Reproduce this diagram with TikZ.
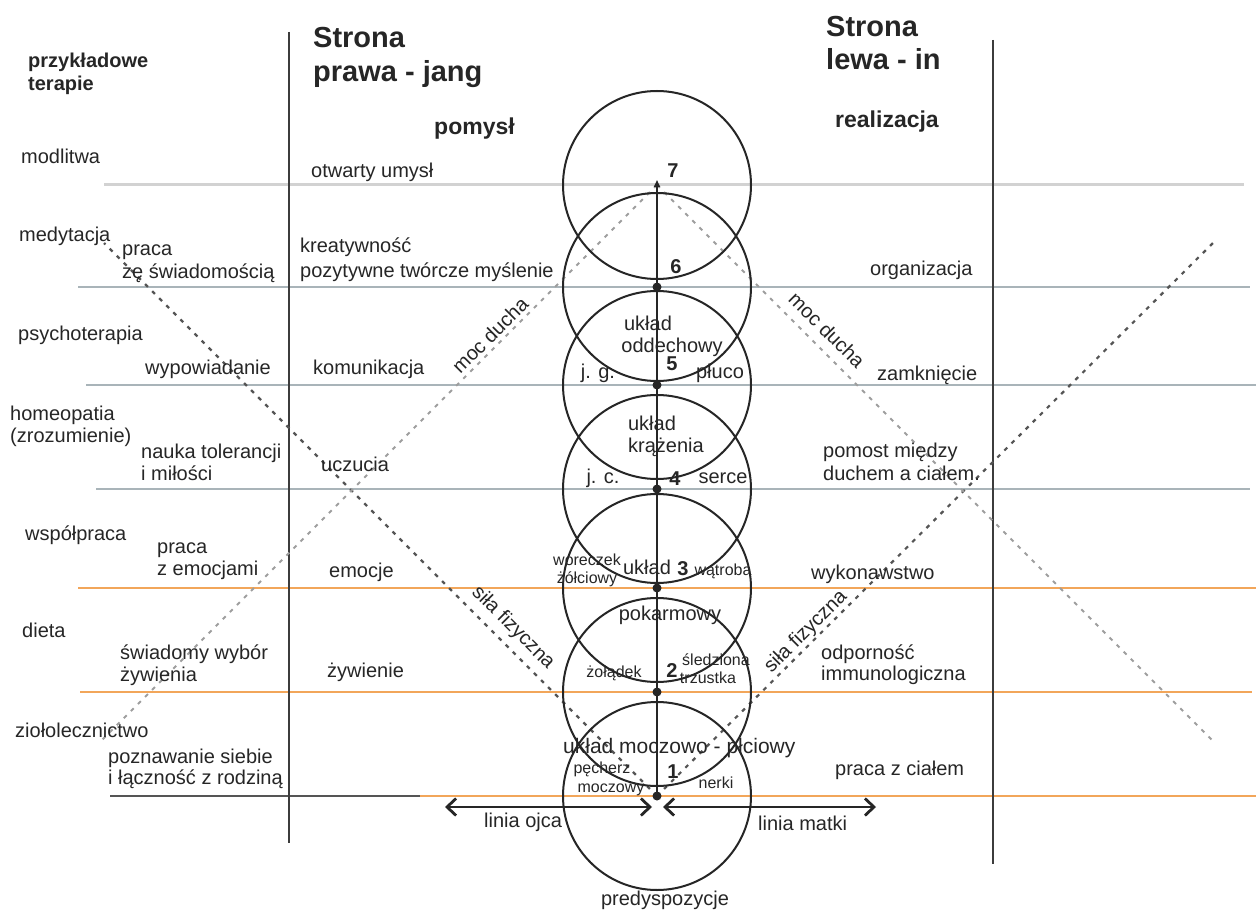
\documentclass[tikz,border=0pt]{standalone}
\usepackage{fontspec}
\setmainfont{Liberation Sans}
\usetikzlibrary{arrows.meta}
\definecolor{ink}{HTML}{262626}
\definecolor{lgray}{HTML}{D2D2D2}
\definecolor{bgray}{HTML}{A9B4B9}
\definecolor{orng}{HTML}{F2A65A}
\definecolor{dgray}{HTML}{555555}
\definecolor{mgray}{HTML}{9E9E9E}
\begin{document}
\begin{tikzpicture}[x=1pt,y=-1pt,
  txt/.style={font=\fontsize{20}{23}\selectfont, inner sep=0pt, anchor=base west, text=ink},
  txtc/.style={txt, anchor=base},
  sml/.style={font=\fontsize{16}{18}\selectfont, inner sep=0pt, anchor=base, text=ink},
  bld/.style={font=\fontsize{20}{23}\selectfont\bfseries, inner sep=0pt, anchor=base west, text=ink},
  numb/.style={font=\fontsize{20}{23}\selectfont\bfseries, inner sep=0pt, anchor=base, text=ink},
  head/.style={font=\fontsize{29}{34}\selectfont\bfseries, inner sep=0pt, anchor=base west, text=ink},
  subhead/.style={font=\fontsize{23}{26}\selectfont\bfseries, inner sep=0pt, anchor=base west, text=ink},
  rotlab/.style={font=\fontsize{20}{23}\selectfont, inner sep=0pt, anchor=center, text=ink},
  hlgray/.style={draw=lgray, line width=3pt},
  hlblue/.style={draw=bgray, line width=2pt},
  hlorange/.style={draw=orng, line width=2.4pt},
  hldark/.style={draw=dgray, line width=2pt},
  vline/.style={draw=ink!90, line width=2pt},
  dotdark/.style={draw=dgray, line width=2.2pt, dash pattern=on 4pt off 6pt},
  dotlight/.style={draw=mgray, line width=2pt, dash pattern=on 4pt off 6pt},
  ring/.style={circle, draw=ink, line width=2pt, minimum size=188pt, inner sep=0pt},
  blob/.style={circle, fill=ink, minimum size=9pt, inner sep=0pt},
  dblarrow/.style={draw=ink, line width=2.8pt, {Straight Barb[length=9pt,width=17pt]}-{Straight Barb[length=9pt,width=17pt]}},
]
\useasboundingbox (0,0) rectangle (1256,912);
\fill[white] (0,0) rectangle (1256,912);

% horizontal band lines
\draw[hlgray] (104,185) -- (1244,185);
\draw[hlblue] (78,287) -- (1250,287);
\draw[hlblue] (86,385) -- (1256,385);
\draw[hlblue] (96,489) -- (1250,489);
\draw[hlorange] (78,588) -- (1256,588);
\draw[hlorange] (80,692) -- (1252,692);
\draw[hlorange] (405,796) -- (1256,796);
\draw[hldark] (110,796) -- (420,796);

% vertical dividers
\draw[vline] (289,32) -- (289,843);
\draw[vline] (993,40) -- (993,864);

% diagonal dotted lines
\coordinate (top) at (657,185);
\coordinate (bot) at (657,796);
\coordinate (sl) at (104,243);
\coordinate (sr) at (1213,243);
\coordinate (ml) at (100,742);
\coordinate (mr) at (1215,743);
\draw[dotdark] (bot) -- (sl);
\draw[dotdark] (bot) -- (sr);
\draw[dotlight] (top) -- (ml);
\draw[dotlight] (top) -- (mr);

% circles
\node[ring] (c7) at (657,185) {};
\node[ring] (c6) at (657,287) {};
\node[ring] (c5) at (657,385) {};
\node[ring] (c4) at (657,489) {};
\node[ring] (c3) at (657,588) {};
\node[ring] (c2) at (657,692) {};
\node[ring] (c1) at (657,796) {};

% axis
\node[blob] (d6) at (657,287) {};
\node[blob] (d5) at (657,385) {};
\node[blob] (d4) at (657,489) {};
\node[blob] (d3) at (657,588) {};
\node[blob] (d2) at (657,692) {};
\node[blob] (d1) at (657,796) {};
\coordinate (tip) at (657,180);
\draw[ink, line width=1.6pt, -{Triangle[length=7pt,width=6pt]}] (d1.center) -- (tip);

% lineage arrows
\coordinate (ojL) at (445,807);
\coordinate (ojR) at (652,807);
\coordinate (maL) at (663,807);
\coordinate (maR) at (876,807);
\draw[dblarrow] (ojL) -- (ojR);
\draw[dblarrow] (maL) -- (maR);
\node[txt] (lojca) at (484,827) {linia ojca};
\node[txt] (lmatki) at (758,830) {linia matki};

% headings
\node[bld] (przyk) at (28,68) {przykładowe};
\node[bld] (terap) at (28,91) {terapie};
\node[head] (sp1) at (313,48) {Strona};
\node[head] (sp2) at (313,82) {prawa - jang};
\node[subhead] (pomysl) at (434,135) {pomysł};
\node[head] (sl1) at (826,37) {Strona};
\node[head] (sl2) at (826,70) {lewa - in};
\node[subhead] (realiz) at (835,128) {realizacja};

% therapies column
\node[txt] (t1) at (21,164) {modlitwa};
\node[txt] (t2) at (19,242) {medytacja};
\node[txt] (t3) at (18,340) {psychoterapia};
\node[txt] (t4a) at (10,420) {homeopatia};
\node[txt] (t4b) at (10,442) {(zrozumienie)};
\node[txt] (t5) at (25,540) {współpraca};
\node[txt] (t6) at (22,637) {dieta};
\node[txt] (t7) at (15,737) {ziołolecznictwo};

% second column
\node[txt] (a2a) at (122,255) {praca};
\node[txt] (a2b) at (122,278) {zę świadomością};
\node[txt] (a3) at (145,374) {wypowiadanie};
\node[txt] (a4a) at (141,458) {nauka tolerancji};
\node[txt] (a4b) at (141,480) {i miłości};
\node[txt] (a5a) at (157,553) {praca};
\node[txt] (a5b) at (157,575) {z emocjami};
\node[txt] (a6a) at (120,659) {świadomy wybór};
\node[txt] (a6b) at (120,681) {żywienia};
\node[txt] (a7a) at (108,763) {poznawanie siebie};
\node[txt] (a7b) at (108,784) {i łączność z rodziną};

% third column
\node[txt] (b1) at (311,178) {otwarty umysł};
\node[txt] (b2a) at (300,253) {kreatywność};
\node[txt] (b2b) at (300,277) {pozytywne twórcze myślenie};
\node[txt] (b3) at (313,374) {komunikacja};
\node[txt] (b4) at (321,471) {uczucia};
\node[txt] (b5) at (329,577) {emocje};
\node[txt] (b6) at (327,677) {żywienie};

% right column
\node[txt] (r2) at (870,276) {organizacja};
\node[txt] (r3) at (877,380) {zamknięcie};
\node[txt] (r4a) at (823,457) {pomost między};
\node[txt] (r4b) at (823,480) {duchem a ciałem.};
\node[txt] (r5) at (811,579) {wykonawstwo};
\node[txt] (r6a) at (821,659) {odporność};
\node[txt] (r6b) at (821,680) {immunologiczna};
\node[txt] (r7) at (835,775) {praca z ciałem};

% diagonal labels
\node[rotlab, rotate=45] (mdl) at (490,335) {moc ducha};
\node[rotlab, rotate=-45] (mdr) at (827,330) {moc ducha};
\node[rotlab, rotate=-45] (sfl) at (513,628) {siła fizyczna};
\node[rotlab, rotate=45] (sfr) at (806,632) {siła fizyczna};

% numbers
\node[numb] (n7) at (673,178) {7};
\node[numb] (n6) at (676,273) {6};
\node[numb] (n5) at (672,370) {5};
\node[numb] (n4) at (675,485) {4};
\node[numb] (n3) at (683,575) {3};
\node[numb] (n2) at (672,677) {2};
\node[numb] (n1) at (673,778) {1};

% organ labels
\node[txtc] (u5a) at (648,330) {układ};
\node[txtc] (u5b) at (672,352) {oddechowy};
\node[txtc] (jg) at (598,378) {j. g.};
\node[txtc] (pluco) at (720,378) {płuco};
\node[txtc] (u4a) at (652,430) {układ};
\node[txtc] (u4b) at (666,452) {krążenia};
\node[txtc] (jc) at (603,483) {j. c.};
\node[txtc] (serce) at (723,483) {serce};
\node[sml] (wor1) at (587,565) {woreczek};
\node[sml] (wor2) at (587,583) {żółciowy};
\node[txtc] (u3a) at (647,574) {układ};
\node[sml] (watr) at (723,575) {wątroba};
\node[txtc] (u3b) at (670,620) {pokarmowy};
\node[sml] (zol) at (614,677) {żołądek};
\node[sml] (sledz) at (716,665) {śledziona};
\node[sml] (trzus) at (708,683) {trzustka};
\node[txt, font=\fontsize{21}{24}\selectfont] (u1) at (563,753) {układ moczowo - płciowy};
\node[sml] (pech1) at (602,773) {pęcherz};
\node[sml] (pech2) at (611,792) {moczowy};
\node[sml] (nerki) at (716,788) {nerki};
\node[txtc] (pred) at (665,905) {predyspozycje};
\end{tikzpicture}
\end{document}
